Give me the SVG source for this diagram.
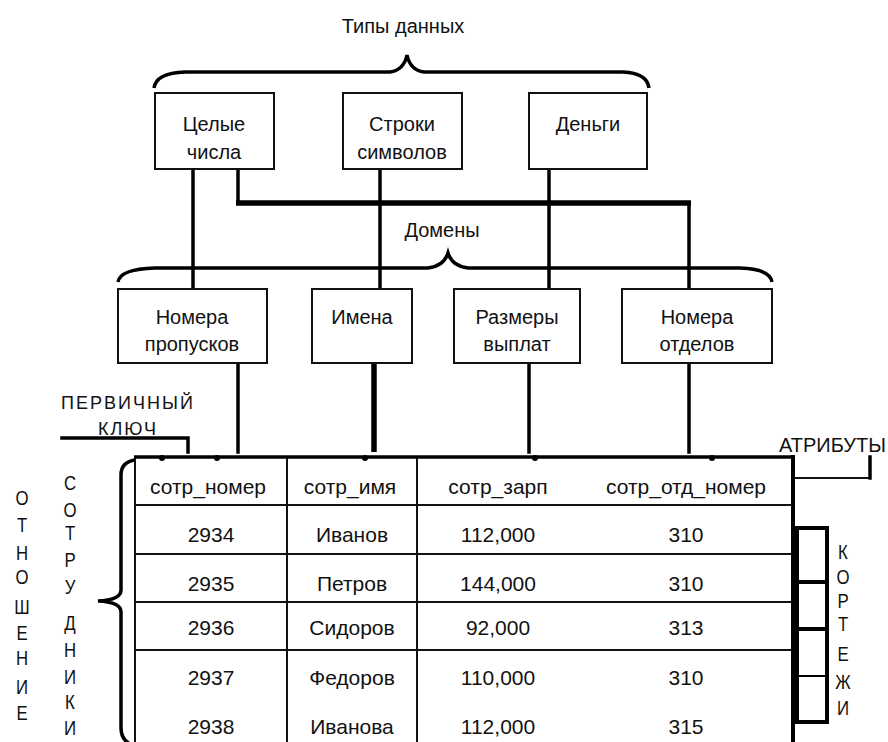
<svg xmlns="http://www.w3.org/2000/svg" width="888" height="742" viewBox="0 0 888 742">
<style>
text{font-family:"Liberation Sans",Arial,sans-serif;fill:#111;font-size:20px;text-anchor:middle}
.box{fill:#fff;stroke:#111;stroke-width:2}
.ln{fill:none;stroke:#000;stroke-width:3.5;stroke-linecap:square}
.thick{fill:none;stroke:#000;stroke-width:5.5}
.grid{fill:none;stroke:#111;stroke-width:2}
.brace{fill:none;stroke:#000;stroke-width:3.5}
.cell{font-size:21px}
.v{font-size:21px}
.dot{fill:#000}
</style>
<rect width="888" height="742" fill="#fff"/>

<g id="braces">
<text x="403" y="33">Типы данных</text>
<path class="brace" d="M154,88 Q156,73 185,72 L390,72 Q404,70 407,55 Q410,70 424,72 L623,72 Q647,73 649,88"/>
<text x="442" y="237">Домены</text>
<path class="brace" d="M118,282 Q120,269 155,268 L428,268 Q444,266 448,253 Q452,266 468,268 L740,268 Q770,269 772,282"/>
<path class="brace" d="M135,460 Q121,462 121,475 L121,590 Q121,600 98,601 Q121,602 121,612 L121,728 Q121,742 135,746"/>
</g>

<g id="connectors">
<line class="ln" x1="193" y1="169" x2="193" y2="289"/>
<line class="ln" x1="238" y1="169" x2="238" y2="203"/>
<line class="thick" x1="236" y1="203" x2="691" y2="203"/>
<line class="ln" x1="689" y1="203" x2="689" y2="289"/>
<line class="ln" x1="380" y1="169" x2="380" y2="289"/>
<line class="ln" x1="549" y1="169" x2="549" y2="289"/>
<line class="ln" x1="238" y1="363" x2="238" y2="452"/>
<line class="thick" x1="374" y1="363" x2="374" y2="452"/>
<line class="ln" x1="529" y1="363" x2="529" y2="452"/>
<line class="ln" x1="689" y1="363" x2="689" y2="452"/>
<polyline class="ln" points="62,438 188,438 188,452"/>
<polyline class="grid" points="793,478 870,478"/>
<polyline class="ln" points="870,478 870,457"/>
</g>

<g id="t-int"><rect class="box" x="155" y="93" width="119" height="76"/><text x="214" y="131">Целые</text><text x="214" y="159">числа</text></g>
<g id="t-str"><rect class="box" x="343" y="93" width="119" height="76"/><text x="402" y="131">Строки</text><text x="402" y="159">символов</text></g>
<g id="t-money"><rect class="box" x="529" y="93" width="118" height="76"/><text x="588" y="131">Деньги</text></g>

<g id="d-pass"><rect class="box" x="118" y="289" width="149" height="74"/><text x="192" y="324">Номера</text><text x="192" y="351">пропусков</text></g>
<g id="d-names"><rect class="box" x="312" y="289" width="100" height="74"/><text x="362" y="324">Имена</text></g>
<g id="d-pay"><rect class="box" x="454" y="289" width="126" height="74"/><text x="517" y="324">Размеры</text><text x="517" y="351">выплат</text></g>
<g id="d-dept"><rect class="box" x="622" y="289" width="150" height="74"/><text x="697" y="324">Номера</text><text x="697" y="351">отделов</text></g>

<g id="pk">
<text x="128" y="409" style="font-size:18px;letter-spacing:2px">ПЕРВИЧНЫЙ</text>
<text x="128" y="435" style="font-size:18px;letter-spacing:2px">КЛЮЧ</text>
</g>

<g id="attrs"><text x="886" y="452" style="text-anchor:end">АТРИБУТЫ</text></g>

<g id="table">
<line class="grid" x1="135" y1="457" x2="135" y2="742"/>
<line class="grid" x1="287" y1="457" x2="287" y2="742"/>
<line class="grid" x1="417" y1="457" x2="417" y2="742"/>
<line class="grid" x1="135" y1="505" x2="793" y2="505"/>
<line class="grid" x1="135" y1="554" x2="793" y2="554"/>
<line class="grid" x1="135" y1="602" x2="793" y2="602"/>
<line class="grid" x1="135" y1="650" x2="793" y2="650"/>
<line stroke="#000" stroke-width="3.5" x1="134" y1="457" x2="795" y2="457"/>
<line stroke="#000" stroke-width="4" x1="793" y1="455" x2="793" y2="742"/>
<circle class="dot" cx="162" cy="458" r="3"/>
<circle class="dot" cx="217" cy="458" r="3"/>
<circle class="dot" cx="365" cy="458" r="3"/>
<circle class="dot" cx="535" cy="458" r="3"/>
<circle class="dot" cx="712" cy="458" r="3"/>
<g class="cell">
<text class="cell" x="208" y="494">сотр_номер</text>
<text class="cell" x="350" y="494">сотр_имя</text>
<text class="cell" x="498" y="494">сотр_зарп</text>
<text class="cell" x="686" y="494">сотр_отд_номер</text>
<text class="cell" x="211" y="542">2934</text>
<text class="cell" x="352" y="542">Иванов</text>
<text class="cell" x="498" y="542">112,000</text>
<text class="cell" x="686" y="542">310</text>
<text class="cell" x="211" y="591">2935</text>
<text class="cell" x="352" y="591">Петров</text>
<text class="cell" x="498" y="591">144,000</text>
<text class="cell" x="686" y="591">310</text>
<text class="cell" x="211" y="635">2936</text>
<text class="cell" x="352" y="635">Сидоров</text>
<text class="cell" x="498" y="635">92,000</text>
<text class="cell" x="686" y="635">313</text>
<text class="cell" x="211" y="685">2937</text>
<text class="cell" x="352" y="685">Федоров</text>
<text class="cell" x="498" y="685">110,000</text>
<text class="cell" x="686" y="685">310</text>
<text class="cell" x="211" y="734">2938</text>
<text class="cell" x="352" y="734">Иванова</text>
<text class="cell" x="498" y="734">112,000</text>
<text class="cell" x="686" y="734">315</text>
</g>
</g>

<g id="tuples">
<path fill="none" stroke="#000" stroke-width="4" d="M797,528 H827 V722 H797 Z M797,582 H827 M797,629 H827"/>
<line stroke="#000" stroke-width="2" x1="797" y1="676" x2="827" y2="676"/>
<g transform="translate(843,0) scale(0.8,1)">
<text class="v" x="0" y="559">К</text>
<text class="v" x="0" y="584">О</text>
<text class="v" x="0" y="608">Р</text>
<text class="v" x="0" y="631">Т</text>
<text class="v" x="0" y="661">Е</text>
<text class="v" x="0" y="689">Ж</text>
<text class="v" x="0" y="715">И</text>
</g>
</g>

<g id="relation" transform="translate(22,0) scale(0.8,1)">
<text class="v" x="0" y="505">О</text>
<text class="v" x="0" y="532">Т</text>
<text class="v" x="0" y="560">Н</text>
<text class="v" x="0" y="584">О</text>
<text class="v" x="0" y="614">Ш</text>
<text class="v" x="0" y="640">Е</text>
<text class="v" x="0" y="665">Н</text>
<text class="v" x="0" y="694">И</text>
<text class="v" x="0" y="720">Е</text>
</g>
<g id="employees" transform="translate(70,0) scale(0.8,1)">
<text class="v" x="0" y="490">С</text>
<text class="v" x="0" y="517">О</text>
<text class="v" x="0" y="540">Т</text>
<text class="v" x="0" y="567">Р</text>
<text class="v" x="0" y="594">У</text>
<text class="v" x="0" y="630">Д</text>
<text class="v" x="0" y="657">Н</text>
<text class="v" x="0" y="684">И</text>
<text class="v" x="0" y="709">К</text>
<text class="v" x="0" y="735">И</text>
</g>
</svg>
